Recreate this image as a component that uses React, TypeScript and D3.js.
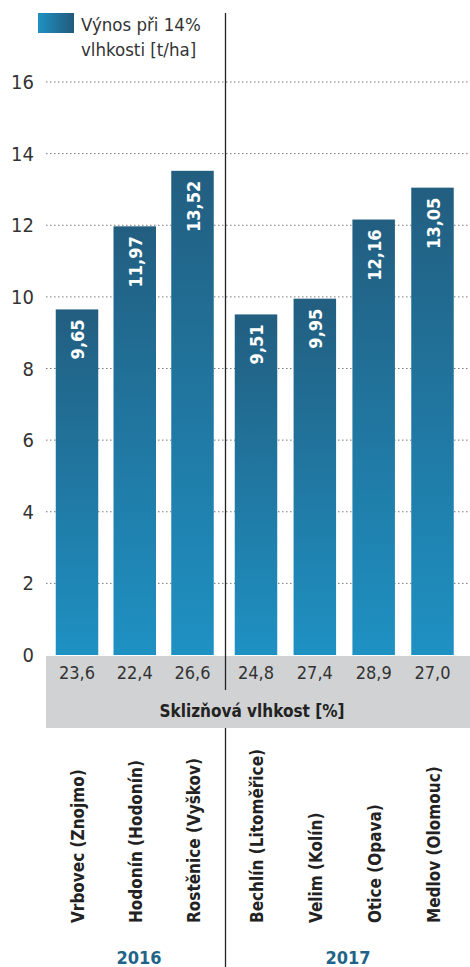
import React from "react";
import * as d3 from "d3";

const places2016 = ["Vrbovec (Znojmo)", "Hodonín (Hodonín)", "Rostěnice (Vyškov)"];
const places2017 = ["Bechlín (Litoměřice)", "Velim (Kolín)", "Otice (Opava)", "Medlov (Olomouc)"];
const yields2016 = [9.65, 11.97, 13.52];
const yields2017 = [9.51, 9.95, 12.16, 13.05];
const moisture2016 = ["23,6", "22,4", "26,6"];
const moisture2017 = ["24,8", "27,4", "28,9", "27,0"];
const yTicks = [0, 2, 4, 6, 8, 10, 12, 14, 16];
const years = ["2016", "2017"];
const legendLines = ["Výnos při 14%", "vlhkosti [t/ha]"];
const bandTitle = "Sklizňová vlhkost [%]";

const W = 470;
const H = 967;
const FONT = "'DejaVu Sans Condensed', 'Liberation Sans Narrow', 'Roboto', sans-serif";

export default function App() {
  const y = d3.scaleLinear().domain([0, 16]).range([655, 82]);
  const x2016 = d3.scalePoint<string>().domain(places2016).range([77, 192.5]);
  const x2017 = d3.scalePoint<string>().domain(places2017).range([256, 432.5]);
  const barW = 42.5;
  const fmt = (v: number) => d3.format(".2f")(v).replace(".", ",");

  const groups = [
    { year: years[0], places: places2016, vals: yields2016, moist: moisture2016, x: x2016, cx: 139 },
    { year: years[1], places: places2017, vals: yields2017, moist: moisture2017, x: x2017, cx: 348 },
  ];

  return (
    <svg width={W} height={H} style={{ position: "absolute", left: 0, top: 0, background: "#fff" }} fontFamily={FONT}>
      <defs>
        <linearGradient id="barGrad" x1="0" y1="0" x2="0" y2="1">
          <stop offset="0%" stopColor="#225e80" />
          <stop offset="100%" stopColor="#1e91c3" />
        </linearGradient>
        <linearGradient id="legGrad" x1="0" y1="0" x2="1" y2="0">
          <stop offset="0%" stopColor="#1e91c3" />
          <stop offset="100%" stopColor="#225a7c" />
        </linearGradient>
      </defs>

      {/* legend */}
      <rect x={38} y={13} width={36} height={20} fill="url(#legGrad)" />
      {legendLines.map((t, i) => (
        <text key={t} x={81} y={31 + i * 25} fontSize={18.5} fill="#333">{t}</text>
      ))}

      {/* grid + y labels */}
      {yTicks.map((t) => (
        <g key={t}>
          {t > 0 && (
            <line x1={46} x2={W} y1={y(t)} y2={y(t)} stroke="#777" strokeWidth={1} strokeDasharray="1.5 2.5" />
          )}
          <text x={34} y={y(t) + 7} textAnchor="end" fontSize={20} fill="#333">{t}</text>
        </g>
      ))}

      {/* gray band */}
      <rect x={46} y={656} width={W - 46} height={72} fill="#d1d2d4" />
      <text x={252} y={717} textAnchor="middle" fontSize={17} fontWeight="bold" fill="#222">{bandTitle}</text>

      {/* divider */}
      <line x1={225.5} x2={225.5} y1={13} y2={690} stroke="#222" strokeWidth={1.3} />
      <line x1={225.5} x2={225.5} y1={728} y2={H} stroke="#222" strokeWidth={1.3} />

      {groups.map((g) => (
        <g key={g.year}>
          {g.places.map((p, i) => {
            const cx = g.x(p) as number;
            const top = y(g.vals[i]);
            return (
              <g key={p}>
                <rect x={cx - barW / 2} y={top} width={barW} height={y(0) - top} fill="url(#barGrad)" />
                <text
                  transform={`translate(${cx + 7},${top + 10}) rotate(-90)`}
                  textAnchor="end"
                  fontSize={18}
                  fontWeight="bold"
                  fill="#fff"
                >
                  {fmt(g.vals[i])}
                </text>
                <text x={cx} y={679} textAnchor="middle" fontSize={18} fill="#333">{g.moist[i]}</text>
                <text
                  transform={`translate(${cx + 7},${923}) rotate(-90)`}
                  textAnchor="start"
                  fontSize={17}
                  fontWeight="bold"
                  fill="#222"
                >
                  {p}
                </text>
              </g>
            );
          })}
          <text x={g.cx} y={964} textAnchor="middle" fontSize={18} fontWeight="bold" fill="#1f6488">{g.year}</text>
        </g>
      ))}
    </svg>
  );
}
